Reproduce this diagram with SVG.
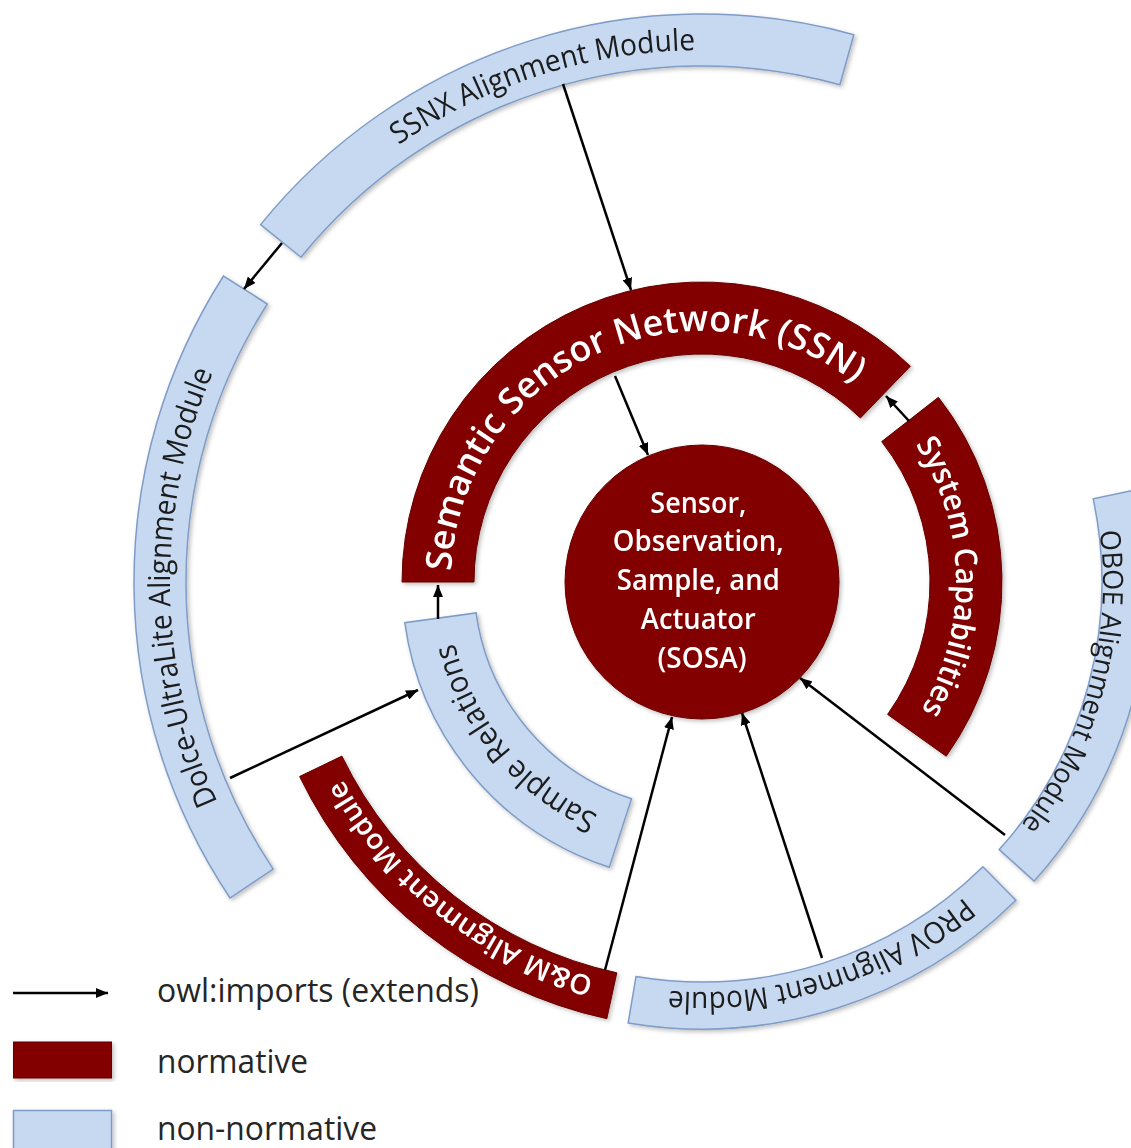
<svg xmlns="http://www.w3.org/2000/svg" width="1131" height="1148" viewBox="0 0 1131 1148">
<style>
.red{fill:#820000;stroke:#650000;stroke-width:1}
.blue{fill:#c6d9f1;stroke:#7f9cc7;stroke-width:1.5}
.wt{fill:#ffffff;font-family:"Open Sans","Liberation Sans",sans-serif;font-weight:600}
.bt{fill:#1b1b1b;font-family:"Open Sans","Liberation Sans",sans-serif}
.lt{fill:#262626;font-family:"Open Sans","Liberation Sans",sans-serif;font-size:33px}
.conn{stroke:#000;stroke-width:2.5;fill:none;marker-end:url(#ah)}
</style>
<defs>
<marker id="ah" markerUnits="userSpaceOnUse" markerWidth="13" markerHeight="10" refX="12" refY="5" orient="auto">
<path d="M0,0 L12,5 L0,10 Z" fill="#000"/>
</marker>
<filter id="sh" x="-10%" y="-10%" width="120%" height="120%">
<feDropShadow dx="2" dy="2" stdDeviation="2" flood-color="#000" flood-opacity="0.25"/>
</filter>
<path id="tSSN" d="M451,582 A251,251 0 0 1 876.4,401.5"/>
<path id="tSYS" d="M902.2,425.6 A254,254 0 0 1 908.8,729.5"/>
<path id="tSR" d="M623.2,824.5 A255,255 0 0 1 449.4,616.6"/>
<path id="tOM" d="M614.7,982.6 A410,410 0 0 1 332.9,760.4"/>
<path id="tPROV" d="M989.9,873.9 A410,410 0 0 1 634.3,986.4"/>
<path id="tOBOE" d="M1094.2,498.6 A401,401 0 0 1 1000,850.3"/>
<path id="tSSNX" d="M288.6,247.2 A532,532 0 0 1 844.2,69.5"/>
<path id="tDOL" d="M259.9,878 A532,532 0 0 1 253.8,295.4"/>
</defs>

<g id="ssnx" filter="url(#sh)">
<path class="blue" d="M260.6,224.6 A568,568 0 0 1 853.8,34.7 L839.9,84.8 A516,516 0 0 0 301,257.3 Z"/>
<text class="bt" font-size="30"><textPath href="#tSSNX" startOffset="50%" text-anchor="middle" textLength="316" lengthAdjust="spacingAndGlyphs">SSNX Alignment Module</textPath></text>
</g>
<g id="dolce" filter="url(#sh)">
<path class="blue" d="M230,898 A568,568 0 0 1 223.5,276 L267.3,304 A516,516 0 0 0 273.2,869.1 Z"/>
<text class="bt" font-size="30"><textPath href="#tDOL" startOffset="50%" text-anchor="middle" textLength="442" lengthAdjust="spacingAndGlyphs">Dolce-UltraLite Alignment Module</textPath></text>
</g>
<g id="oboe" filter="url(#sh)">
<path class="blue" d="M1139.2,489.1 A447,447 0 0 1 1034.2,881.1 L999.2,849.6 A400,400 0 0 0 1093.2,498.8 Z"/>
<text class="bt" font-size="28"><textPath href="#tOBOE" startOffset="50%" text-anchor="middle" textLength="312" lengthAdjust="spacingAndGlyphs">OBOE Alignment Module</textPath></text>
</g>
<g id="prov" filter="url(#sh)">
<path class="blue" d="M1015.9,900.3 A447,447 0 0 1 628.2,1022.9 L636,976.5 A400,400 0 0 0 982.9,866.8 Z"/>
<text class="bt" font-size="30"><textPath href="#tPROV" startOffset="50%" text-anchor="middle" textLength="318" lengthAdjust="spacingAndGlyphs">PROV Alignment Module</textPath></text>
</g>
<g id="om" filter="url(#sh)">
<path class="red" d="M606.8,1018.7 A447,447 0 0 1 299.6,776.5 L341.9,756.1 A400,400 0 0 0 616.8,972.8 Z"/>
<text class="wt" font-size="28"><textPath href="#tOM" startOffset="50%" text-anchor="middle" textLength="329" lengthAdjust="spacingAndGlyphs">O&amp;M Alignment Module</textPath></text>
</g>
<g id="samplerel" filter="url(#sh)">
<path class="blue" d="M609.3,867.3 A300,300 0 0 1 404.8,622.7 L476.1,612.9 A228,228 0 0 0 631.5,798.8 Z"/>
<text class="bt" font-size="31"><textPath href="#tSR" startOffset="50%" text-anchor="middle" textLength="232" lengthAdjust="spacingAndGlyphs">Sample Relations</textPath></text>
</g>
<g id="ssn" filter="url(#sh)">
<path class="red" d="M402,582 A300,300 0 0 1 910.4,366.2 L860.4,418 A228,228 0 0 0 474,582 Z"/>
<text class="wt" font-size="36"><textPath href="#tSSN" startOffset="48.5%" text-anchor="middle" textLength="548" lengthAdjust="spacingAndGlyphs">Semantic Sensor Network (SSN)</textPath></text>
</g>
<g id="syscap" filter="url(#sh)">
<path class="red" d="M938.4,397.3 A300,300 0 0 1 946.2,756.2 L887.6,714.4 A228,228 0 0 0 881.7,441.6 Z"/>
<text class="wt" font-size="31"><textPath href="#tSYS" startOffset="50%" text-anchor="middle" textLength="280" lengthAdjust="spacingAndGlyphs">System Capabilities</textPath></text>
</g>
<g id="sosa" filter="url(#sh)">
<circle class="red" cx="702" cy="582" r="137"/>
<text class="wt" font-size="28" text-anchor="middle">
<tspan x="702" y="512.5" textLength="96" lengthAdjust="spacingAndGlyphs">Sensor,</tspan>
<tspan x="702" y="551.3" textLength="171" lengthAdjust="spacingAndGlyphs">Observation,</tspan>
<tspan x="702" y="590" textLength="163" lengthAdjust="spacingAndGlyphs">Sample, and</tspan>
<tspan x="702" y="628.8" textLength="115" lengthAdjust="spacingAndGlyphs">Actuator</tspan>
<tspan x="702" y="667.5" textLength="89" lengthAdjust="spacingAndGlyphs">(SOSA)</tspan>
</text>
</g>

<g id="connectors">
<line class="conn" x1="563" y1="84" x2="631" y2="290"/>
<line class="conn" x1="282" y1="243" x2="244" y2="289"/>
<line class="conn" x1="615" y1="376" x2="648" y2="455"/>
<line class="conn" x1="909" y1="421" x2="886" y2="396"/>
<line class="conn" x1="438" y1="619" x2="438" y2="585"/>
<line class="conn" x1="230" y1="778" x2="418" y2="690"/>
<line class="conn" x1="605" y1="970" x2="672" y2="717"/>
<line class="conn" x1="822" y1="958" x2="742" y2="713"/>
<line class="conn" x1="1005" y1="835" x2="800" y2="678"/>
</g>

<g id="legend">
<line class="conn" x1="13" y1="993" x2="108" y2="993"/>
<text class="lt" x="157" y="1002" textLength="322" lengthAdjust="spacingAndGlyphs">owl:imports (extends)</text>
<rect x="13.5" y="1042" width="98" height="36" fill="#820000" stroke="#650000" stroke-width="1" filter="url(#sh)"/>
<text class="lt" x="157" y="1073" textLength="151" lengthAdjust="spacingAndGlyphs">normative</text>
<rect x="13.5" y="1110.5" width="98" height="40" class="blue" filter="url(#sh)"/>
<text class="lt" x="157" y="1140" textLength="220" lengthAdjust="spacingAndGlyphs">non-normative</text>
</g>
</svg>
